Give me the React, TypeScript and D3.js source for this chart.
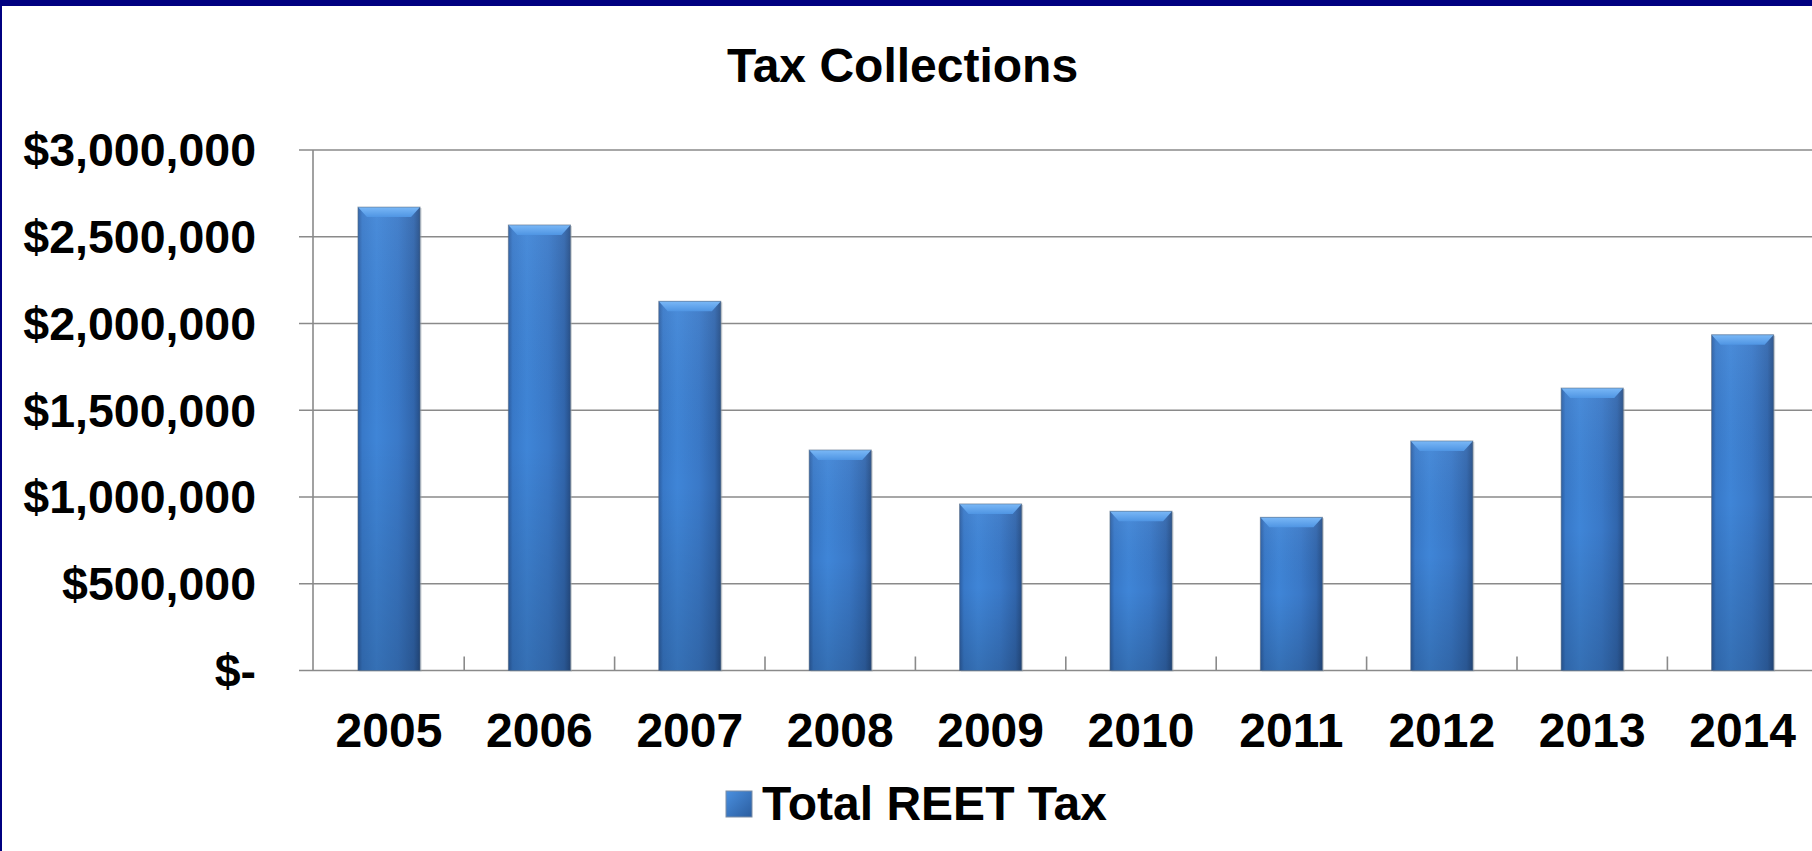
import React from "react";
import * as d3 from "d3";

const categories = ["2005", "2006", "2007", "2008", "2009", "2010", "2011", "2012", "2013", "2014"];
const values = [2671000, 2568000, 2128000, 1271000, 960000, 918000, 883000, 1323000, 1628000, 1935000];
const yTicks = [0, 500000, 1000000, 1500000, 2000000, 2500000, 3000000];
const yTickLabels = ["$-", "$500,000", "$1,000,000", "$1,500,000", "$2,000,000", "$2,500,000", "$3,000,000"];
const seriesName = "Total REET Tax";
const title = "Tax Collections";

const W = 1812;
const H = 851;
const FONT = "'Liberation Sans', Arial, Helvetica, sans-serif";
const FS = 48;
const FS_Y = 46.5;

export default function App() {
  const plotLeft = 313.8;
  const step = 150.4;
  const x = d3
    .scaleBand<string>()
    .domain(categories)
    .range([plotLeft, plotLeft + step * categories.length])
    .paddingInner(0.587)
    .paddingOuter(0.2935);
  const y = d3.scaleLinear().domain([0, 3000000]).range([670.5, 150]);
  const bw = x.bandwidth();
  const axisX0 = 299;

  return (
    <div style={{ position: "absolute", left: 0, top: 0 }}>
      <svg width={W} height={H} style={{ display: "block", background: "#fff" }}>
        <defs>
          <linearGradient id="barH" x1="0" y1="0" x2="1" y2="0">
            <stop offset="0" stopColor="#2c5ea2" />
            <stop offset="0.07" stopColor="#3879c9" />
            <stop offset="0.3" stopColor="#3f85d7" />
            <stop offset="0.65" stopColor="#3a79c8" />
            <stop offset="0.9" stopColor="#3166ad" />
            <stop offset="1" stopColor="#264f88" />
          </linearGradient>
          <linearGradient id="barV" x1="0" y1="0" x2="0" y2="1">
            <stop offset="0" stopColor="#ffffff" stopOpacity="0.06" />
            <stop offset="0.5" stopColor="#000000" stopOpacity="0" />
            <stop offset="1" stopColor="#000000" stopOpacity="0.16" />
          </linearGradient>
          <linearGradient id="bevel" x1="0" y1="0" x2="0" y2="1">
            <stop offset="0" stopColor="#7ab8f7" />
            <stop offset="1" stopColor="#4f95e3" />
          </linearGradient>
          <linearGradient id="swatch" x1="0" y1="0" x2="1" y2="1">
            <stop offset="0" stopColor="#4a90e0" />
            <stop offset="1" stopColor="#2b5d9f" />
          </linearGradient>
        </defs>

        {/* frame */}
        <rect x={0} y={0} width={W} height={6} fill="#000080" />
        <rect x={0} y={0} width={2} height={H} fill="#000080" />

        {/* title */}
        <text x={902.5} y={82} textAnchor="middle" fontFamily={FONT} fontWeight="bold" fontSize={FS} fill="#000">
          {title}
        </text>

        {/* gridlines + y labels */}
        {yTicks.map((t, i) => (
          <g key={t}>
            <line x1={axisX0} x2={W} y1={y(t)} y2={y(t)} stroke="#8a8a8a" strokeWidth={1.6} />
            <text
              x={256}
              y={y(t)}
              dy="0.35em"
              textAnchor="end"
              fontFamily={FONT}
              fontWeight="bold"
              fontSize={FS_Y}
              fill="#000"
            >
              {yTickLabels[i]}
            </text>
          </g>
        ))}

        {/* y axis line */}
        <line x1={plotLeft - 0.8} x2={plotLeft - 0.8} y1={y(3000000)} y2={y(0)} stroke="#8a8a8a" strokeWidth={1.6} />

        {/* x ticks */}
        {categories.slice(1).map((c) => {
          const xx = (x(c) as number) - (step - bw) / 2;
          return <line key={c} x1={xx} x2={xx} y1={y(0) - 14} y2={y(0)} stroke="#8a8a8a" strokeWidth={1.6} />;
        })}

        {/* bars */}
        {categories.map((c, i) => {
          const bx = x(c) as number;
          const by = y(values[i]);
          const bh = y(0) - by;
          const bev = 10;
          return (
            <g key={c}>
              <rect x={bx + 1.5} y={by + 1} width={bw} height={bh} fill="#9aa3ad" opacity={0.45} />
              <rect x={bx} y={by} width={bw} height={bh} fill="url(#barH)" />
              <rect x={bx} y={by} width={bw} height={bh} fill="url(#barV)" />
              <polygon
                points={`${bx},${by} ${bx + bw},${by} ${bx + bw - 9},${by + bev} ${bx + 9},${by + bev}`}
                fill="url(#bevel)"
              />
              <rect
                x={bx}
                y={by}
                width={bw}
                height={bh}
                fill="none"
                stroke="#5a6b82"
                strokeOpacity={0.55}
                strokeWidth={1}
              />
            </g>
          );
        })}

        {/* x labels */}
        {categories.map((c) => (
          <text
            key={c}
            x={(x(c) as number) + bw / 2}
            y={747}
            textAnchor="middle"
            fontFamily={FONT}
            fontWeight="bold"
            fontSize={FS}
            fill="#000"
          >
            {c}
          </text>
        ))}

        {/* legend */}
        <rect x={726} y={791} width={26} height={26} fill="url(#swatch)" stroke="#7d8ea6" strokeWidth={1} />
        <text x={762} y={820} fontFamily={FONT} fontWeight="bold" fontSize={FS} fill="#000">
          {seriesName}
        </text>
      </svg>
    </div>
  );
}
